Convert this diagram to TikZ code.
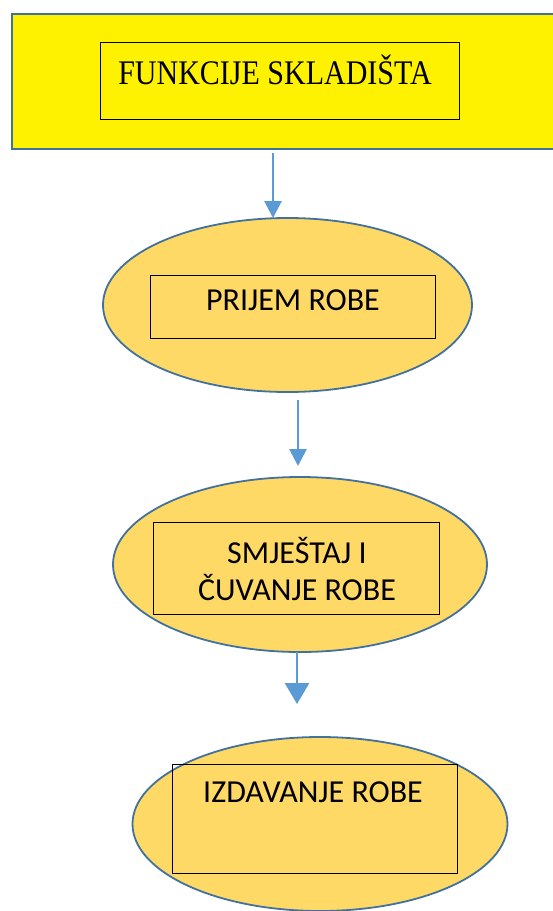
\documentclass[tikz,border=0pt]{standalone}
\usepackage{fontspec}
\setmainfont{Carlito}
\newfontfamily\timesfont{Liberation Serif}
\usetikzlibrary{shapes.geometric,arrows.meta}
\definecolor{flowblue}{HTML}{5B9BD5}
\definecolor{edgeblue}{HTML}{41719C}
\definecolor{stagegold}{HTML}{FFD966}
\tikzset{
	stage/.style={ellipse, draw=edgeblue, line width=1.8pt, fill=stagegold},
	labelbox/.style={draw=black, line width=1pt, inner sep=0pt},
	stagetext/.style={font=\fontsize{32}{37}\selectfont, align=center},
	flow/.style={flowblue, line width=2.8pt, -{Triangle[width=17pt,length=17pt]}}
}
\begin{document}
\begin{tikzpicture}[x=1pt,y=-1pt]
		\useasboundingbox (0,0) rectangle (552,911);
		% title
		\node[draw=edgeblue, line width=2.2pt, fill=yellow, minimum width=560pt, minimum height=135pt, anchor=north west] (title) at (11,13) {};
		\node[labelbox, minimum width=359pt, minimum height=77pt] (titlebox) at (279.5,80.5) {};
		\node[font=\timesfont\fontsize{30}{34}\selectfont, yscale=1.15] (titletxt) at (275,70) {FUNKCIJE SKLADIŠTA};
		% stages
		\node[stage, minimum width=369pt, minimum height=174pt] (prijem) at (287.5,305) {};
		\node[labelbox, minimum width=285pt, minimum height=63pt] (prijembox) at (292.5,306.5) {};
		\node[stagetext] (prijemtxt) at (293,300) {PRIJEM ROBE};
		\node[stage, minimum width=374pt, minimum height=175pt] (smjestaj) at (300,564.5) {};
		\node[labelbox, minimum width=286pt, minimum height=92pt] (smjestajbox) at (296,568) {};
		\node[stagetext] (smjestajtxt) at (297,569) {SMJEŠTAJ I\\ČUVANJE ROBE};
		\node[stage, minimum width=375pt, minimum height=174pt] (izdavanje) at (320,824) {};
		\node[labelbox, minimum width=285pt, minimum height=109pt] (izdavanjebox) at (314.5,818.5) {};
		\node[stagetext] (izdavanjetxt) at (313,792) {IZDAVANJE ROBE};
		% arrows
		\coordinate (a1) at (273,153); \coordinate (b1) at (273,218);
		\coordinate (a2) at (298,400); \coordinate (b2) at (298,466);
		\coordinate (a3) at (297,652); \coordinate (b3) at (297,704);
		\draw[flow] (a1) -- (b1);
		\draw[flow] (a2) -- (b2);
		\draw[flow, -{Triangle[width=24pt,length=21pt]}] (a3) -- (b3);
	\end{tikzpicture}
\end{document}
